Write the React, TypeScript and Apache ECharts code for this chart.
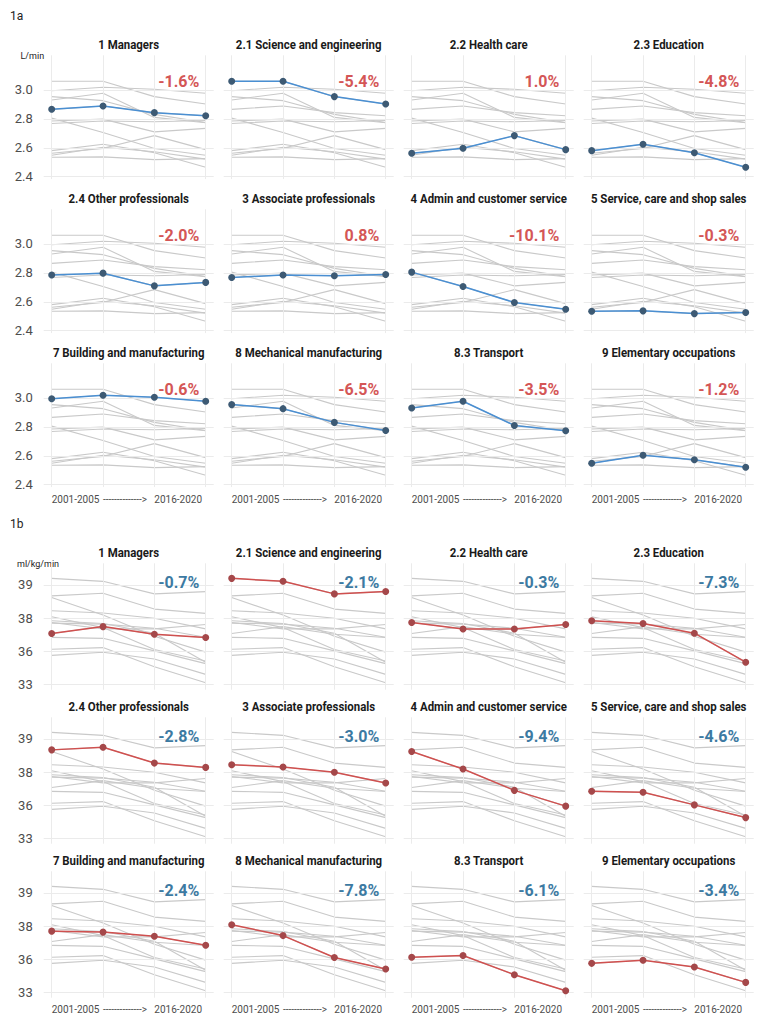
import React, { useEffect, useRef } from "react";
import * as echarts from "echarts";

// ---------- data ----------
const occupations = [
  "1 Managers",
  "2.1 Science and engineering",
  "2.2 Health care",
  "2.3 Education",
  "2.4 Other professionals",
  "3 Associate professionals",
  "4 Admin and customer service",
  "5 Service, care and shop sales",
  "7 Building and manufacturing",
  "8 Mechanical manufacturing",
  "8.3 Transport",
  "9 Elementary occupations",
];
const periods = ["2001-2005", "2006-2010", "2011-2015", "2016-2020"];
const xTickLabels = ["2001-2005", "-------------->", "2016-2020"];

// 1a: absolute VO2max, L/min
const absManagers = [2.866, 2.889, 2.843, 2.822];
const absScience = [3.06, 3.06, 2.954, 2.903];
const absHealth = [2.562, 2.596, 2.684, 2.587];
const absEducation = [2.58, 2.624, 2.566, 2.465];
const absOtherProf = [2.785, 2.798, 2.71, 2.734];
const absAssociate = [2.768, 2.785, 2.78, 2.789];
const absAdmin = [2.805, 2.706, 2.595, 2.548];
const absService = [2.534, 2.537, 2.518, 2.525];
const absBuilding = [2.995, 3.019, 3.005, 2.977];
const absMechanical = [2.954, 2.926, 2.831, 2.775];
const absTransport = [2.931, 2.977, 2.81, 2.773];
const absElementary = [2.548, 2.604, 2.572, 2.521];
const absChange = ["-1.6%", "-5.4%", "1.0%", "-4.8%", "-2.0%", "0.8%", "-10.1%", "-0.3%", "-0.6%", "-6.5%", "-3.5%", "-1.2%"];
const absTicks = [2.4, 2.6, 2.8, 3.0];
const absTickLabels = ["2.4", "2.6", "2.8", "3.0"];

// 1b: relative VO2max, ml/kg/min
const relManagers = [37.06, 37.48, 37.02, 36.82];
const relScience = [39.2, 39.11, 38.73, 38.8];
const relHealth = [37.73, 37.34, 37.34, 37.61];
const relEducation = [37.83, 37.67, 37.08, 34.99];
const relOtherProf = [38.67, 38.75, 38.27, 38.14];
const relAssociate = [38.22, 38.15, 37.99, 37.34];
const relAdmin = [38.62, 38.09, 36.89, 35.9];
const relService = [36.83, 36.77, 36.01, 34.86];
const relBuilding = [37.69, 37.63, 37.38, 36.84];
const relMechanical = [38.04, 37.42, 36.09, 35.1];
const relTransport = [36.11, 36.21, 34.58, 33.12];
const relElementary = [35.61, 35.89, 35.28, 33.88];
const relChange = ["-0.7%", "-2.1%", "-0.3%", "-7.3%", "-2.8%", "-3.0%", "-9.4%", "-4.6%", "-2.4%", "-7.8%", "-6.1%", "-3.4%"];
const relTicks = [33, 36, 38, 39];
const relTickLabels = ["33", "36", "38", "39"];

const absSeries = [absManagers, absScience, absHealth, absEducation, absOtherProf, absAssociate, absAdmin, absService, absBuilding, absMechanical, absTransport, absElementary];
const relSeries = [relManagers, relScience, relHealth, relEducation, relOtherProf, relAssociate, relAdmin, relService, relBuilding, relMechanical, relTransport, relElementary];

// the 1b y scale places its breaks (33, 36, 38, 39) at equal steps
function relScale(v: number): number {
  const t = relTicks;
  if (v <= t[1]) return (v - t[0]) / (t[1] - t[0]);
  if (v <= t[2]) return 1 + (v - t[1]) / (t[2] - t[1]);
  return 2 + (v - t[2]) / (t[3] - t[2]);
}

// ---------- layout ----------
const FONT = "Roboto, 'Noto Sans', sans-serif";
const GRID_COLOR = "#ebebeb";
const GREY_LINE = "#c9c9c9";
const X_MIN = 0.8442;
const X_MAX = 4.1558;

function buildOption() {
  const grids: any[] = [];
  const xAxes: any[] = [];
  const yAxes: any[] = [];
  const series: any[] = [];
  const graphics: any[] = [];

  graphics.push({ type: "text", x: 10, y: 16, style: { text: "1a", font: `12px ${FONT}`, fill: "#222", textVerticalAlign: "middle" } });
  graphics.push({ type: "text", x: 10, y: 524, style: { text: "1b", font: `12px ${FONT}`, fill: "#222", textVerticalAlign: "middle" } });
  graphics.push({ type: "text", x: 20.5, y: 56, style: { text: "L/min", font: `9px ${FONT}`, fill: "#222", textVerticalAlign: "middle" } });
  graphics.push({ type: "text", x: 17, y: 564, style: { text: "ml/kg/min", font: `9px ${FONT}`, fill: "#222", textVerticalAlign: "middle" } });

  const sections = [
    {
      key: "abs",
      values: absSeries,
      change: absChange,
      ticks: absTicks,
      tickLabels: absTickLabels,
      map: (v: number) => v,
      yMin: 2.383,
      yMax: 3.24,
      anchor0: 90,
      topOff: 34.7,
      height: 123.8,
      pctDy: -9,
      titleDy: -45,
      lineColor: "#4a8fd2",
      dotColor: "#3d5a74",
      pctColor: "#d45656",
    },
    {
      key: "rel",
      values: relSeries,
      change: relChange,
      ticks: relTicks.map(relScale),
      tickLabels: relTickLabels,
      map: relScale,
      yMin: -0.17,
      yMax: 3.656,
      anchor0: 585,
      topOff: 21.7,
      height: 126.4,
      pctDy: -2.5,
      titleDy: -32,
      lineColor: "#d0504f",
      dotColor: "#a5484a",
      pctColor: "#3c7aa2",
    },
  ];

  sections.forEach((sec) => {
    for (let p = 0; p < 12; p++) {
      const r = Math.floor(p / 4);
      const c = p % 4;
      const x0 = 51.7 + c * 180;
      const anchor = sec.anchor0 + r * 154;
      const gi = grids.length;
      grids.push({ left: x0 - 8, top: anchor - sec.topOff, width: 170, height: sec.height });
      const bottomRow = r === 2;
      xAxes.push({
        type: "value",
        gridIndex: gi,
        min: X_MIN,
        max: X_MAX,
        axisLine: { show: false },
        axisTick: { show: false },
        splitLine: { show: false },
        axisLabel: {
          show: bottomRow,
          customValues: [1, 2, 3],
          formatter: (v: number) => xTickLabels[Math.round(v) - 1] ?? "",
          align: "left",
          margin: 7,
          fontSize: 10,
          fontFamily: FONT,
          color: "#4d4d4d",
        },
      });
      const tickLabels = sec.tickLabels;
      const ticks = sec.ticks;
      yAxes.push({
        type: "value",
        gridIndex: gi,
        min: sec.yMin,
        max: sec.yMax,
        axisLine: { show: false },
        axisTick: { show: false },
        splitLine: { show: false },
        axisLabel: {
          show: c === 0,
          customValues: ticks,
          formatter: (v: number) => {
            let best = 0;
            ticks.forEach((t, i) => {
              if (Math.abs(t - v) < Math.abs(ticks[best] - v)) best = i;
            });
            return tickLabels[best];
          },
          margin: 11,
          fontSize: 13,
          fontFamily: FONT,
          color: "#4d4d4d",
        },
      });
      // grid lines
      series.push({
        type: "line",
        xAxisIndex: gi,
        yAxisIndex: gi,
        data: [],
        silent: true,
        z: 1,
        markLine: {
          silent: true,
          symbol: ["none", "none"],
          label: { show: false },
          lineStyle: { color: GRID_COLOR, width: 1, type: "solid" },
          data: [
            ...[1, 2, 3, 4].map((v) => ({ xAxis: v })),
            ...ticks.map((v) => ({ yAxis: v })),
          ],
        },
      });
      // all occupations in grey
      sec.values.forEach((vals, k) => {
        series.push({
          type: "line",
          name: `${sec.key}-${occupations[k]}-grey`,
          xAxisIndex: gi,
          yAxisIndex: gi,
          data: vals.map((v, i) => [i + 1, sec.map(v)]),
          showSymbol: false,
          symbol: "none",
          silent: true,
          z: 2,
          lineStyle: { color: GREY_LINE, width: 1.1 },
        });
      });
      // highlighted occupation
      series.push({
        type: "line",
        name: `${sec.key}-${occupations[p]}`,
        xAxisIndex: gi,
        yAxisIndex: gi,
        data: sec.values[p].map((v, i) => [i + 1, sec.map(v)]),
        symbol: "circle",
        symbolSize: 7,
        showSymbol: true,
        z: 5,
        lineStyle: { color: sec.lineColor, width: 1.5 },
        itemStyle: { color: sec.dotColor },
      });
      // title and change label
      graphics.push({
        type: "text",
        x: x0 + 77,
        y: anchor + sec.titleDy,
        scaleX: 0.88,
        style: {
          text: occupations[p],
          font: `bold 13px ${FONT}`,
          fill: "#1a1a1a",
          textAlign: "center",
          textVerticalAlign: "middle",
        },
      });
      graphics.push({
        type: "text",
        x: x0 + 147.6,
        y: anchor + sec.pctDy,
        z: 10,
        style: {
          text: sec.change[p],
          font: `bold 16px ${FONT}`,
          fill: sec.pctColor,
          textAlign: "right",
          textVerticalAlign: "middle",
        },
      });
    }
  });

  return {
    animation: false,
    backgroundColor: "#ffffff",
    grid: grids,
    xAxis: xAxes,
    yAxis: yAxes,
    series,
    graphic: graphics,
  };
}

export default function App() {
  const ref = useRef<HTMLDivElement>(null);
  useEffect(() => {
    if (!ref.current) return;
    const chart = echarts.init(ref.current, undefined, { renderer: "svg" });
    chart.setOption(buildOption() as any);
    return () => chart.dispose();
  }, []);
  return (
    <div
      ref={ref}
      style={{ position: "absolute", left: 0, top: 0, width: 768, height: 1022, background: "#fff" }}
    />
  );
}
